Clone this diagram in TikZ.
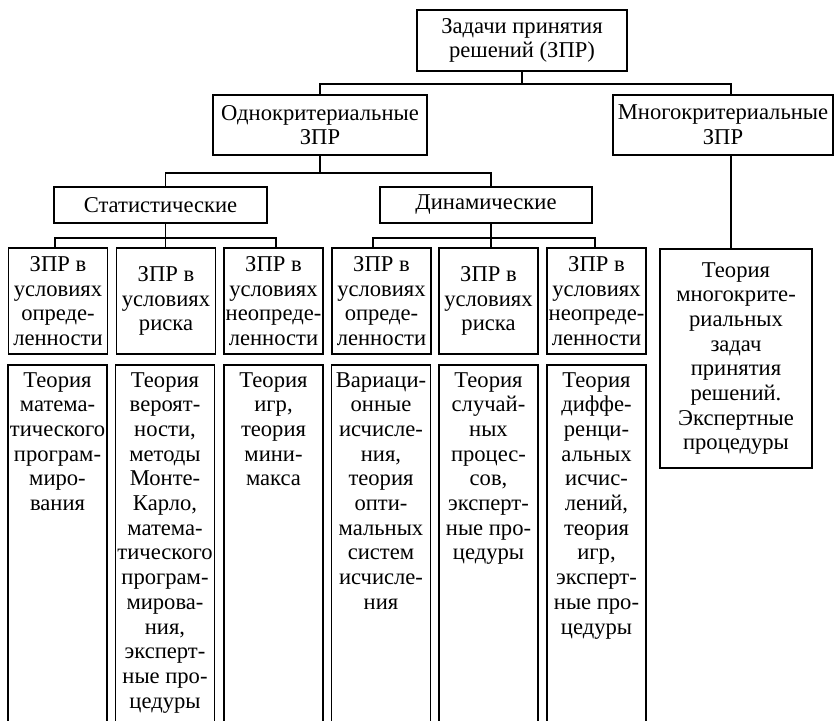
\documentclass[tikz,border=0pt]{standalone}
\usepackage{fontspec}
\setmainfont{Liberation Serif}
\begin{document}
\begin{tikzpicture}[x=1pt,y=-1pt,
  every node/.style={font=\fontsize{22.6}{24.7}\selectfont},
  box/.style={draw, line width=1.6pt, align=center, inner sep=0pt},
  cond/.style={box, minimum width=99, minimum height=106},
  frame/.style={draw, line width=1.6pt, minimum width=99, minimum height=420, anchor=north, inner sep=0pt},
  body/.style={anchor=north, align=center, inner xsep=0pt, inner ysep=8pt},
  link/.style={line width=1.6pt}]
\useasboundingbox (0,0) rectangle (835,720);
\clip (0,0) rectangle (835,720);

% top levels
\node[box, minimum width=210, minimum height=61] (root) at (522,40.5) {Задачи принятия\\решений (ЗПР)};
\node[box, minimum width=214, minimum height=60] (odno) at (320,125) {Однокритериальные\\ЗПР};
\node[box, minimum width=220, minimum height=60] (mnogo) at (723,125) {Многокритериальные\\ЗПР};
\node[box, minimum width=213, minimum height=36] (stat) at (160.5,205) {Статистические};
\node[box, minimum width=212, minimum height=36] (din) at (486,205) {Динамические};

% conditions
\node[cond] (c1) at (58,301) {ЗПР в\\условиях\\опреде-\\ленности};
\node[cond] (c2) at (166,301) {ЗПР в\\условиях\\риска};
\node[cond] (c3) at (273.5,301) {ЗПР в\\условиях\\неопреде-\\ленности};
\node[cond] (c4) at (381.5,301) {ЗПР в\\условиях\\опреде-\\ленности};
\node[cond] (c5) at (488.5,301) {ЗПР в\\условиях\\риска};
\node[cond] (c6) at (596.5,301) {ЗПР в\\условиях\\неопреде-\\ленности};

% theories (open columns running off the bottom)
\node[frame] (f1) at (57.5,364) {};
\node[frame] (f2) at (165,364) {};
\node[frame] (f3) at (273.5,364) {};
\node[frame] (f4) at (381,364) {};
\node[frame] (f5) at (488.5,364) {};
\node[frame] (f6) at (596.5,364) {};

\node[body] (t1) at (f1.north) {Теория\\матема-\\тического\\програм-\\миро-\\вания};
\node[body] (t2) at (f2.north) {Теория\\вероят-\\ности,\\методы\\Монте-\\Карло,\\матема-\\тического\\програм-\\мирова-\\ния,\\эксперт-\\ные про-\\цедуры};
\node[body] (t3) at (f3.north) {Теория\\игр,\\теория\\мини-\\макса};
\node[body] (t4) at (f4.north) {Вариаци-\\онные\\исчисле-\\ния,\\теория\\опти-\\мальных\\систем\\исчисле-\\ния};
\node[body] (t5) at (f5.north) {Теория\\случай-\\ных\\процес-\\сов,\\эксперт-\\ные про-\\цедуры};
\node[body] (t6) at (f6.north) {Теория\\диффе-\\ренци-\\альных\\исчис-\\лений,\\теория\\игр,\\эксперт-\\ные про-\\цедуры};

\node[box, minimum width=152, minimum height=219] (mteor) at (736,358.5) {Теория\\многокрите-\\риальных\\задач\\принятия\\решений.\\Экспертные\\процедуры};

% connectors
\draw[link] (root.south) -- ++(0,12) coordinate (j0);
\draw[link] (odno.north) |- (j0) -| ([xshift=8]mnogo.north);
\draw[link] ([xshift=8]mnogo.south) -- ([xshift=-5]mteor.north);

\draw[link] (odno.south) -- ++(0,17) coordinate (j1);
\draw[link] ([xshift=5]stat.north) |- (j1) -| ([xshift=5]din.north);

\draw[link] ([xshift=5]stat.south) -- ++(0,14) coordinate (j2);
\draw[link] ([xshift=-3]c1.north) |- (j2) -| ([xshift=2.5]c3.north);
\draw[link] (j2) -- (j2 |- c2.north);

\draw[link] ([xshift=5]din.south) -- ++(0,14) coordinate (j3);
\draw[link] ([xshift=-8.5]c4.north) |- (j3) -| ([xshift=-1.5]c6.north);
\draw[link] (j3) -- (j3 |- c5.north);
\end{tikzpicture}
\end{document}
